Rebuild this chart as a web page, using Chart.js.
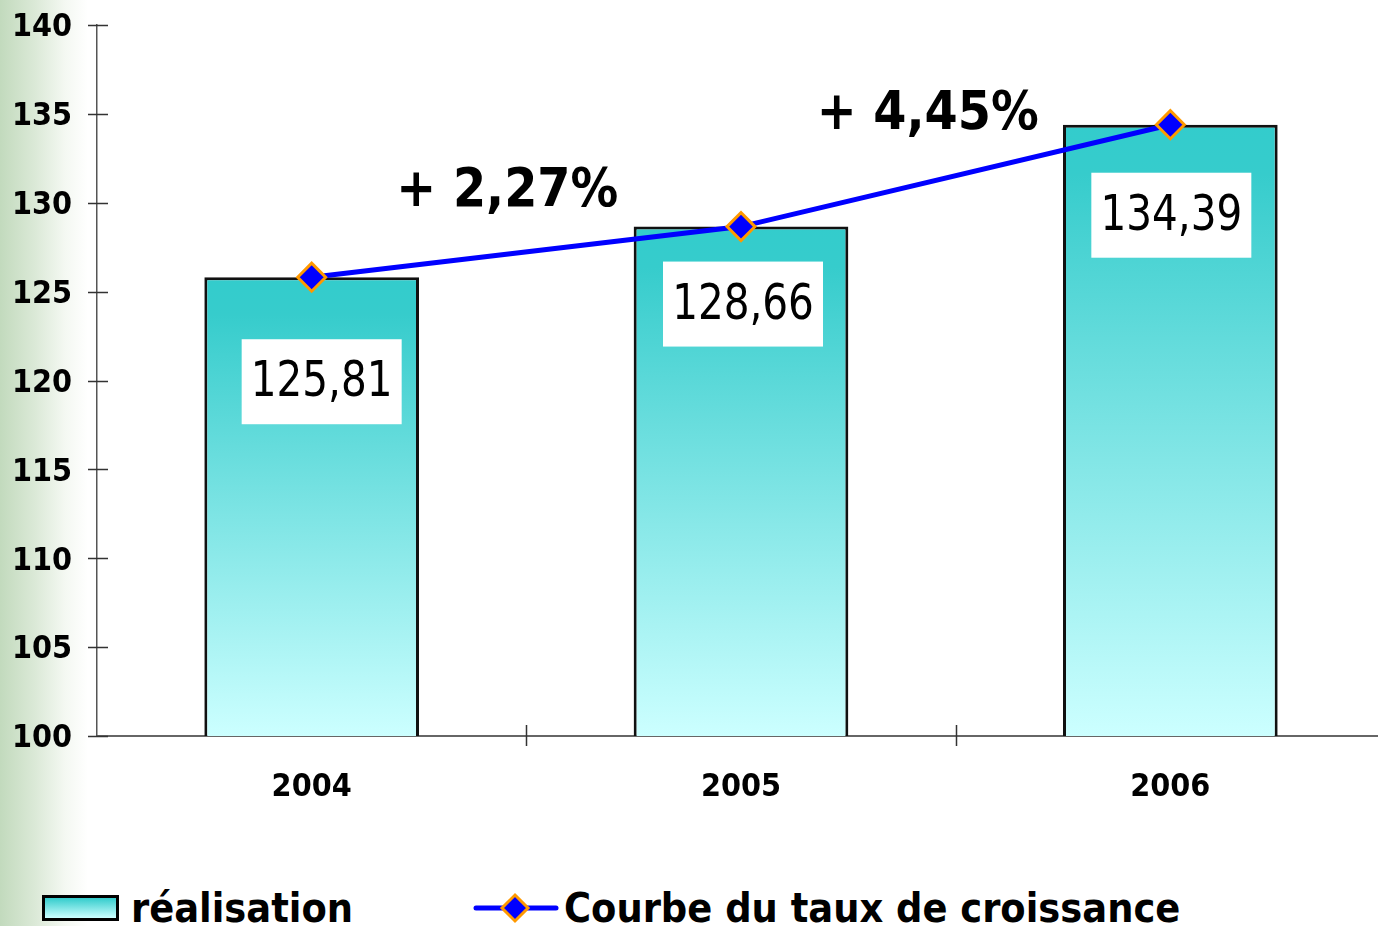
<!DOCTYPE html>
<html>
<head>
<meta charset="utf-8">
<script src="https://cdn.jsdelivr.net/npm/chart.js@4/dist/chart.umd.min.js"></script>
<style>
    html, body {
        margin: 0;
        padding: 0;
        width: 1378px;
        height: 926px;
        overflow: hidden;
        background: linear-gradient(to right, #c2dabd 0px, #dbe9d7 35px, #f4f8f2 65px, #ffffff 88px);
    }
    #wrap {
        position: absolute;
        left: 0;
        top: 0;
        width: 1402px;
        height: 840px;
    }
    .legend-text {
        position: absolute;
        font-family: "DejaVu Sans Condensed", "DejaVu Sans", sans-serif;
        font-weight: bold;
        font-size: 41px;
        color: #000;
        line-height: 1;
        white-space: nowrap;
    }
    #legBox {
        position: absolute;
        left: 42px;
        top: 895px;
        width: 71px;
        height: 20px;
        border: 3px solid #000;
        background: linear-gradient(to bottom, #33cccc, #ccffff);
    }
    #legLine {
        position: absolute;
        left: 473px;
        top: 891px;
    }
</style>
</head>
<body>
<div id="wrap"><canvas id="chart"></canvas></div>

<div id="legBox"></div>
<div class="legend-text" style="left:131px; top:888px;">réalisation</div>
<svg id="legLine" width="86" height="34">
    <line x1="3" y1="17" x2="83" y2="17" stroke="#0000ff" stroke-width="5" stroke-linecap="round"/>
    <polygon points="42,4 55,17 42,30 29,17" fill="#0000ff" stroke="#ff9900" stroke-width="3"/>
</svg>
<div class="legend-text" style="left:564px; top:888px;">Courbe du taux de croissance</div>

<script>
// data
const years = ['2004', '2005', '2006'];
const realisation = [125.81, 128.66, 134.39];
const valueLabels = ['125,81', '128,66', '134,39'];
const growthLabels = ['+ 2,27%', '+ 4,45%'];
const yMin = 100;
const yMax = 140;
const yStep = 5;

// label placement (px from bar top / bar centre, and from segment middle)
const labelShift = [[10, 104], [2, 77], [1, 90]];
const growthShift = [[-19, -60], [-28, -60]];

const condBold = { family: '"DejaVu Sans Condensed", "DejaVu Sans", sans-serif', weight: 'bold', size: 32 };

// bar gradient, per bar from its top down to the baseline
const barFill = (ctx) => {
    const chart = ctx.chart;
    if (!chart.chartArea || ctx.dataIndex === undefined) return '#33cccc';
    const y = chart.scales.y;
    const top = y.getPixelForValue(realisation[ctx.dataIndex]);
    const bottom = y.getPixelForValue(yMin);
    const g = chart.ctx.createLinearGradient(0, top, 0, bottom);
    g.addColorStop(0, '#33cccc');
    g.addColorStop(0.08, '#36cccc');
    g.addColorStop(1, '#ccffff');
    return g;
};

// axis ticks that cross the axis lines, like in the original
const crossTicks = {
    id: 'crossTicks',
    afterDraw(chart) {
        const { ctx, chartArea, scales } = chart;
        ctx.save();
        ctx.strokeStyle = '#333';
        ctx.lineWidth = 1.5;
        ctx.beginPath();
        scales.y.ticks.forEach((t, i) => {
            const py = Math.round(scales.y.getPixelForTick(i)) + 0.5;
            ctx.moveTo(chartArea.left - 9, py);
            ctx.lineTo(chartArea.left + 11, py);
        });
        const x = scales.x;
        for (let i = 1; i < years.length; i++) {
            const px = Math.round((x.getPixelForTick(i - 1) + x.getPixelForTick(i)) / 2) + 0.5;
            ctx.moveTo(px, chartArea.bottom - 11);
            ctx.lineTo(px, chartArea.bottom + 10);
        }
        ctx.stroke();
        ctx.restore();
    }
};

// white value boxes and growth rates
const annotations = {
    id: 'annotations',
    afterDatasetsDraw(chart) {
        const { ctx, scales } = chart;
        ctx.save();
        ctx.textAlign = 'center';
        ctx.textBaseline = 'middle';

        realisation.forEach((v, i) => {
            const cx = scales.x.getPixelForValue(i) + labelShift[i][0];
            const cy = scales.y.getPixelForValue(v) + labelShift[i][1];
            ctx.fillStyle = '#ffffff';
            ctx.fillRect(cx - 80, cy - 42, 160, 85);
            ctx.fillStyle = '#000000';
            ctx.font = '50px "DejaVu Sans Condensed", "DejaVu Sans", sans-serif';
            ctx.save();
            ctx.translate(cx, cy + 2);
            ctx.scale(0.9, 1);
            ctx.fillText(valueLabels[i], 0, 0);
            ctx.restore();
        });

        ctx.font = 'bold 53px "DejaVu Sans Condensed", "DejaVu Sans", sans-serif';
        ctx.fillStyle = '#000000';
        growthLabels.forEach((txt, i) => {
            const x0 = scales.x.getPixelForValue(i);
            const x1 = scales.x.getPixelForValue(i + 1);
            const y0 = scales.y.getPixelForValue(realisation[i]);
            const y1 = scales.y.getPixelForValue(realisation[i + 1]);
            ctx.fillText(txt, (x0 + x1) / 2 + growthShift[i][0], (y0 + y1) / 2 + growthShift[i][1]);
        });
        ctx.restore();
    }
};

new Chart(document.getElementById('chart'), {
    type: 'bar',
    data: {
        labels: years,
        datasets: [
            {
                type: 'line',
                label: 'Courbe du taux de croissance',
                data: realisation,
                borderColor: '#0000ff',
                borderWidth: 5,
                pointStyle: 'rectRot',
                pointRadius: 14,
                pointBorderWidth: 3,
                pointBackgroundColor: '#0000ff',
                pointBorderColor: '#ff9900',
                tension: 0,
                order: 0
            },
            {
                label: 'réalisation',
                data: realisation,
                backgroundColor: barFill,
                borderColor: '#111',
                borderWidth: 3,
                borderSkipped: false,
                categoryPercentage: 1,
                barPercentage: 0.5,
                order: 1
            }
        ]
    },
    options: {
        responsive: true,
        maintainAspectRatio: false,
        animation: false,
        layout: { padding: { top: 25, right: 5, left: 0, bottom: 0 } },
        plugins: {
            legend: { display: false },
            tooltip: { enabled: false }
        },
        scales: {
            x: {
                grid: { display: false, drawTicks: false },
                border: { display: true, color: '#666', width: 2 },
                ticks: { color: '#000', font: condBold, padding: 32 },
                afterFit: (s) => { s.height = 104; s.paddingLeft = 0; s.paddingRight = 0; }
            },
            y: {
                min: yMin,
                max: yMax,
                grid: { display: false, drawTicks: false },
                border: { display: true, color: '#555', width: 1.5 },
                ticks: { stepSize: yStep, color: '#000', font: condBold, padding: 25, labelOffset: 3 },
                afterFit: (s) => { s.width = 97; s.paddingTop = 0; s.paddingBottom = 0; }
            }
        }
    },
    plugins: [crossTicks, annotations]
});
</script>
</body>
</html>
